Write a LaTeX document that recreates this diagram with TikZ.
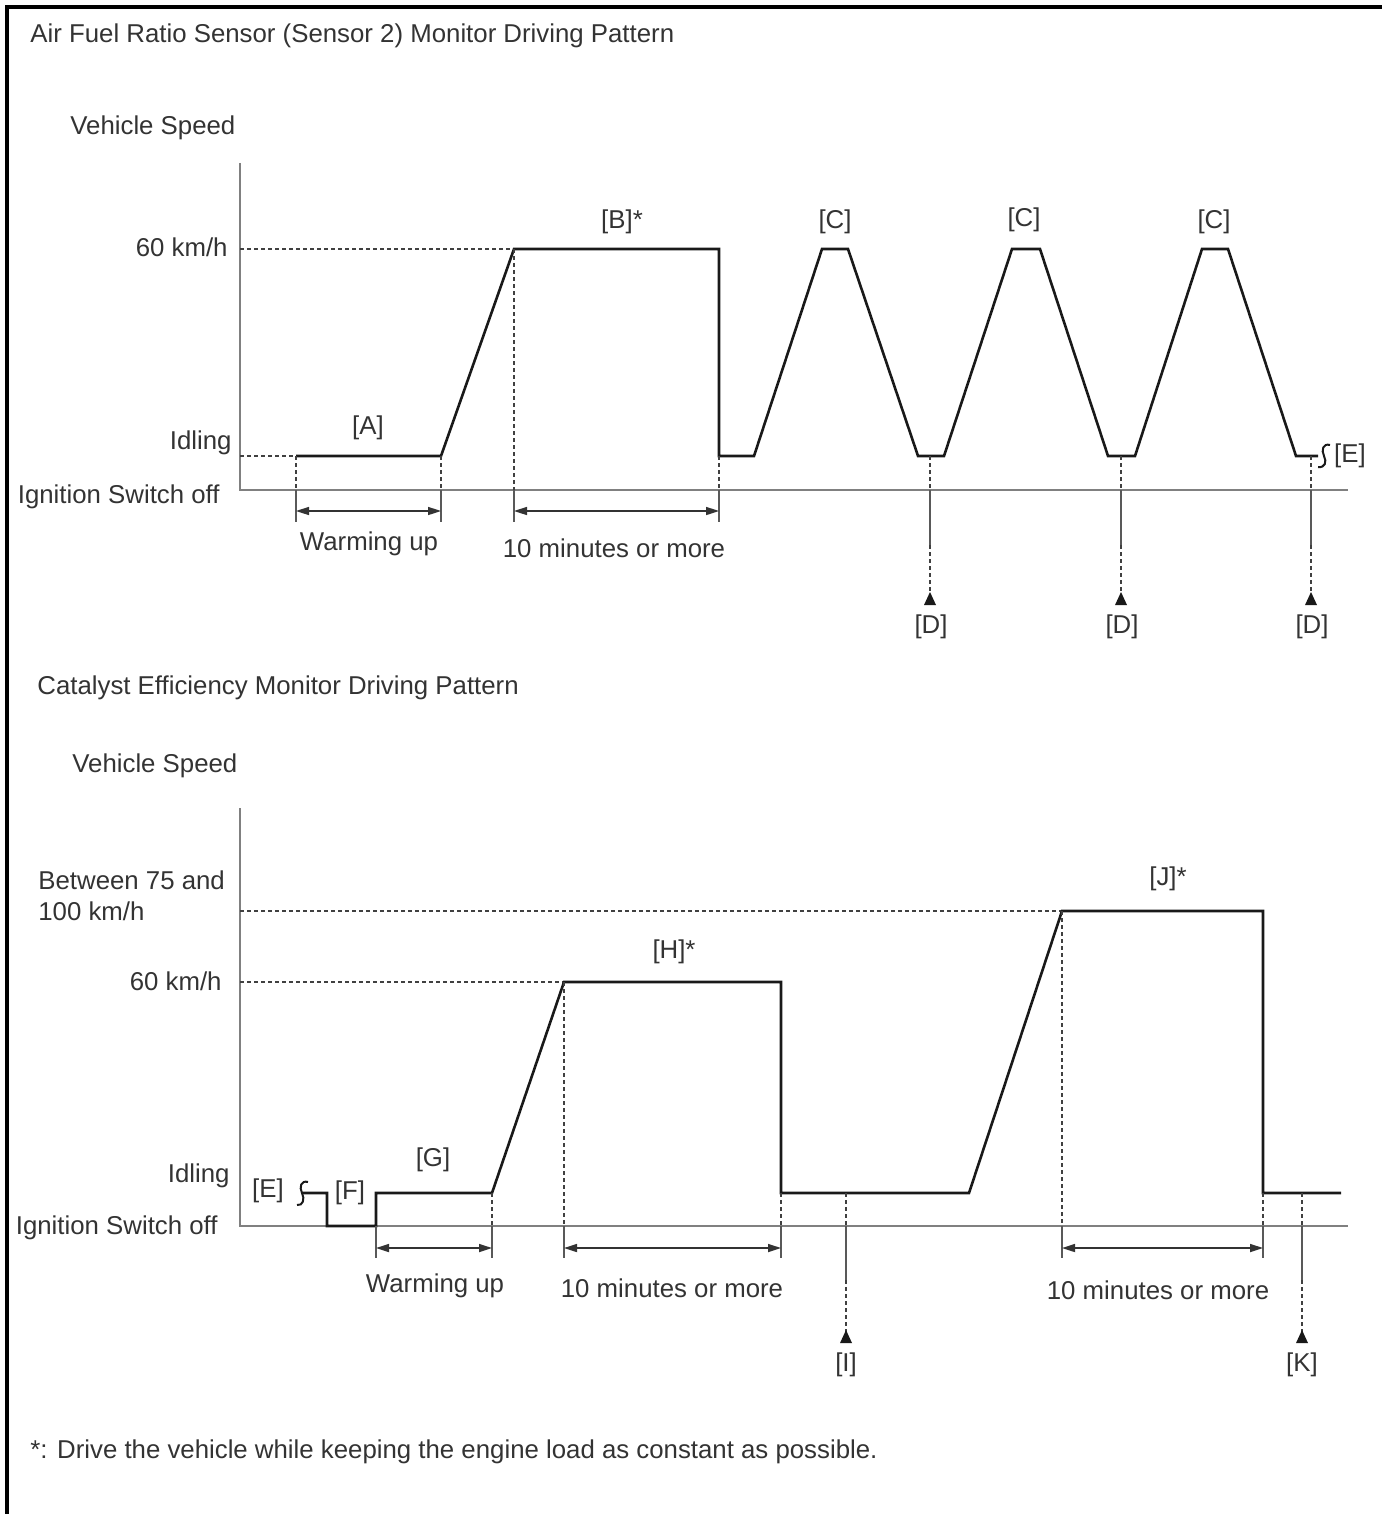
\documentclass[tikz,border=0pt]{standalone}
\usepackage{fontspec}
\setmainfont{Liberation Sans}
\usetikzlibrary{arrows.meta}
\begin{document}
\begin{tikzpicture}
[x=0.5pt,y=-0.5pt,
 lbl/.style={font=\fontsize{12.9}{15}\selectfont,text=black!80,inner sep=0pt},
 axis/.style={draw=black!50,line width=1pt},
 prof/.style={draw=black!90,line width=1.3pt},
 guide/.style={draw=black!75,line width=0.7pt,dash pattern=on 2pt off 1.5pt},
 tick/.style={draw=black!65,line width=0.8pt},
 dim/.style={draw=black!80,line width=0.8pt,{Triangle[length=6.5pt,width=4pt]}-{Triangle[length=6.5pt,width=4pt]}},
 pointer/.style={fill=black!90},
 brk/.style={draw=black!90,line width=1pt}]
\useasboundingbox (0,0) rectangle (1382,1514);
\draw [line width=1.6pt] (7,1514) -- (7,7) -- (1382,7);
% upper chart
\node [lbl,anchor=west] (title1) at (30,36) {Air Fuel Ratio Sensor (Sensor 2) Monitor Driving Pattern};
\node [lbl,anchor=west] (speed1) at (70,128) {Vehicle Speed};
\node [lbl,anchor=east] (sixty1) at (228,247) {60 km/h};
\node [lbl,anchor=east] (idle1) at (232,443) {Idling};
\node [lbl,anchor=east] (off1) at (220,497) {Ignition Switch off};
\draw [axis] (240,163) -- (240,490) -- (1348,490);
\draw [guide] (240,249) -- (514,249);
\draw [guide] (240,456) -- (296,456);
\draw [prof] (296,456) -- (441,456) -- (514,249) -- (719,249) -- (719,456) -- (754,456)
  -- (822,249) -- (848,249) -- (918,456) -- (944,456) -- (1012,249) -- (1040,249)
  -- (1108,456) -- (1135,456) -- (1202,249) -- (1228,249) -- (1296,456) -- (1318,456);
\draw [brk] (1330,445) .. controls (1323,443) and (1321,450) .. (1324,456) .. controls (1327,462) and (1325,468) .. (1318,467);
\node [lbl] (E1) at (1350,456) {[E]};
\node [lbl] (A) at (368,428) {[A]};
\node [lbl] (B) at (622,222) {[B]*};
\node [lbl] (C1) at (835,222) {[C]};
\node [lbl] (C2) at (1024,220) {[C]};
\node [lbl] (C3) at (1214,222) {[C]};
\draw [guide] (296,456) -- (296,490);
\draw [guide] (441,456) -- (441,490);
\draw [guide] (514,249) -- (514,490);
\draw [guide] (719,456) -- (719,490);
\foreach \x in {296,441,514,719}
  \draw [tick] (\x,490) -- (\x,522);
\draw [dim] (296,511) -- (441,511);
\draw [dim] (514,511) -- (719,511);
\node [lbl] (warm1) at (369,544) {Warming up};
\node [lbl] (ten1) at (614,548) {10 minutes or more};
\foreach \x/\n in {930/D1,1121/D2,1311/D3} {
  \draw [guide] (\x,456) -- (\x,490);
  \draw [tick] (\x,490) -- (\x,545);
  \draw [guide] (\x,545) -- (\x,594);
  \fill [pointer] (\x-6,605) -- (\x+6,605) -- (\x,592) -- cycle;
  \node [lbl] (\n) at (\x+1,627) {[D]};
}
% lower chart
\node [lbl,anchor=west] (title2) at (37,688) {Catalyst Efficiency Monitor Driving Pattern};
\node [lbl,anchor=west] (speed2) at (72,766) {Vehicle Speed};
\node [lbl,anchor=west] (fast) at (38,880) {Between 75 and};
\node [lbl,anchor=west] (fastb) at (38,911) {100 km/h};
\node [lbl,anchor=east] (sixty2) at (222,981) {60 km/h};
\node [lbl,anchor=east] (idle2) at (230,1176) {Idling};
\node [lbl,anchor=east] (off2) at (218,1228) {Ignition Switch off};
\draw [axis] (240,808) -- (240,1226) -- (1348,1226);
\draw [guide] (240,911) -- (1062,911);
\draw [guide] (240,982) -- (564,982);
\node [lbl] (E2) at (268,1191) {[E]};
\draw [brk] (308,1182) .. controls (301,1180) and (299,1187) .. (302,1193) .. controls (305,1199) and (303,1206) .. (297,1205);
\draw [prof] (303,1193) -- (327,1193) -- (327,1226) -- (376,1226) -- (376,1193) -- (492,1193)
  -- (564,982) -- (781,982) -- (781,1193) -- (969,1193) -- (1062,911) -- (1263,911)
  -- (1263,1193) -- (1341,1193);
\node [lbl] (F) at (350,1193) {[F]};
\node [lbl] (G) at (433,1160) {[G]};
\node [lbl] (H) at (674,952) {[H]*};
\node [lbl] (J) at (1168,879) {[J]*};
\draw [guide] (492,1193) -- (492,1226);
\draw [guide] (564,982) -- (564,1226);
\draw [guide] (781,1193) -- (781,1226);
\draw [guide] (1062,911) -- (1062,1226);
\draw [guide] (1263,1193) -- (1263,1226);
\foreach \x in {376,492,564,781,1062,1263}
  \draw [tick] (\x,1226) -- (\x,1258);
\draw [dim] (376,1248) -- (492,1248);
\draw [dim] (564,1248) -- (781,1248);
\draw [dim] (1062,1248) -- (1263,1248);
\node [lbl] (warm2) at (435,1286) {Warming up};
\node [lbl] (ten2) at (672,1288) {10 minutes or more};
\node [lbl] (ten3) at (1158,1290) {10 minutes or more};
\foreach \x/\n/\t in {846/I/{[I]},1302/K/{[K]}} {
  \draw [guide] (\x,1193) -- (\x,1226);
  \draw [tick] (\x,1226) -- (\x,1280);
  \draw [guide] (\x,1280) -- (\x,1332);
  \fill [pointer] (\x-6,1343) -- (\x+6,1343) -- (\x,1330) -- cycle;
  \node [lbl] (\n) at (\x,1365) {\t};
}
\node [lbl,anchor=west] (note) at (30,1452) {*: Drive the vehicle while keeping the engine load as constant as possible.};
\end{tikzpicture}
\end{document}
